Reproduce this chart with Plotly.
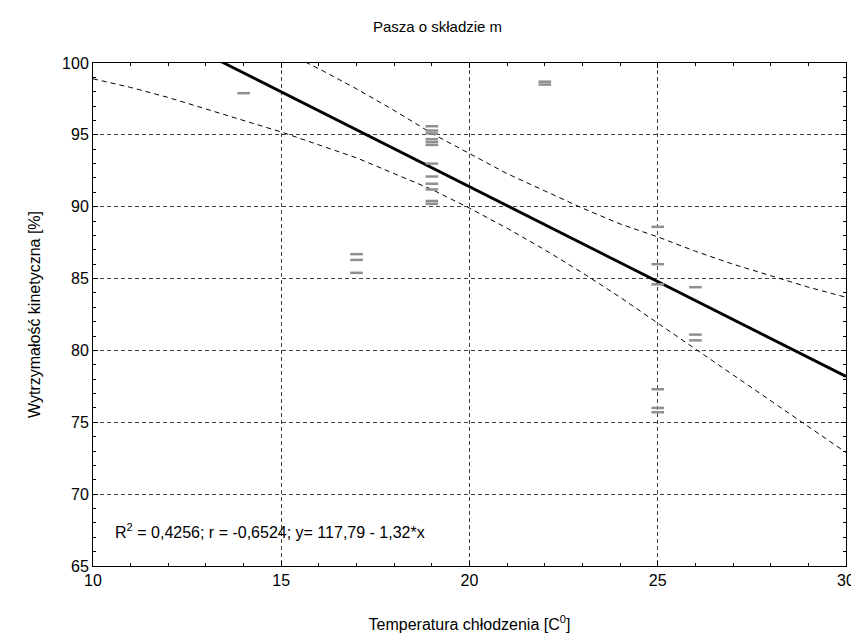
import plotly.graph_objects as go

# --- data ---
temp_x = [14,
          17, 17, 17,
          19, 19, 19, 19, 19, 19, 19, 19, 19, 19, 19, 19,
          22, 22,
          25, 25, 25, 25, 25, 25,
          26, 26, 26]
strength_y = [97.9,
              86.7, 86.3, 85.4,
              95.6, 95.3, 95.1, 94.7, 94.5, 94.3, 93.0, 92.1, 91.6, 91.2, 90.4, 90.2,
              98.7, 98.5,
              88.6, 86.0, 84.6, 77.3, 76.0, 75.7,
              84.4, 81.1, 80.7]

intercept = 117.79
slope = -1.32
reg_x = [10, 30]

lower_x = [10, 11, 12, 13, 14, 15, 16, 17, 18, 19, 20, 21, 22, 23, 24, 25, 26, 27, 28, 29, 30]
lower_y = [98.9, 98.3, 97.6, 96.8, 96.0, 95.2, 94.3, 93.4, 92.3, 91.2, 89.9, 88.5, 87.0, 85.4, 83.7,
           81.9, 80.1, 78.3, 76.5, 74.7, 72.9]
upper_x = [15, 16, 17, 18, 19, 20, 21, 22, 23, 24, 25, 26, 27, 28, 29, 30]
upper_y = [100.9, 99.6, 98.2, 96.7, 95.1, 93.7, 92.3, 91.1, 89.9, 88.8, 87.9, 86.9, 86.0, 85.2, 84.4, 83.7]

x_ticks = [10, 15, 20, 25, 30]
y_ticks = [65, 70, 75, 80, 85, 90, 95, 100]

title_text = "Pasza o składzie m"
x_title = "Temperatura chłodzenia [C<sup>0</sup>]"
y_title = "Wytrzymałość kinetyczna [%]"
stat_text = "R<sup>2</sup> = 0,4256; r = -0,6524; y= 117,79 - 1,32*x"

FONT = "Liberation Sans, Arial, sans-serif"

fig = go.Figure()

fig.add_trace(go.Scatter(
    x=lower_x, y=lower_y, mode="lines",
    line=dict(color="black", width=1, dash="5px,4px"),
    hoverinfo="skip", showlegend=False))
fig.add_trace(go.Scatter(
    x=upper_x, y=upper_y, mode="lines",
    line=dict(color="black", width=1, dash="5px,4px"),
    hoverinfo="skip", showlegend=False))

reg_y = [intercept + slope * v for v in reg_x]
fig.add_trace(go.Scatter(
    x=reg_x, y=reg_y, mode="lines",
    line=dict(color="black", width=2.8),
    hoverinfo="skip", showlegend=False))

fig.add_trace(go.Scatter(
    x=temp_x, y=strength_y, mode="markers",
    marker=dict(symbol="line-ew-open", size=9, color="#8f8f8f",
                line=dict(color="#8f8f8f", width=2.5)),
    showlegend=False))

axis_common = dict(
    showline=True, linecolor="black", linewidth=1, mirror="ticks",
    ticks="inside", ticklen=5, tickcolor="black", tickwidth=1,
    showgrid=True, gridcolor="#444444", gridwidth=1, griddash="4px,3px",
    zeroline=False,
    tickfont=dict(family=FONT, size=16, color="black"),
    minor=dict(ticks="inside", ticklen=3, tickcolor="black", dtick=1, showgrid=False),
)

fig.update_xaxes(range=[10, 30], tickvals=x_ticks, **axis_common,
                 title=dict(text=x_title, font=dict(family=FONT, size=16, color="black"),
                            standoff=30))
fig.update_yaxes(range=[65, 100], tickvals=y_ticks, **axis_common,
                 title=dict(text=y_title, font=dict(family=FONT, size=16, color="black"),
                            standoff=17))

fig.add_annotation(
    x=0.026, y=0.07, xref="paper", yref="paper", xanchor="left", yanchor="middle",
    text=stat_text, showarrow=False,
    font=dict(family=FONT, size=16, color="black"))

fig.update_layout(
    width=859, height=634,
    margin=dict(l=85, r=14, t=55, b=75),
    paper_bgcolor="white", plot_bgcolor="white",
    title=dict(text=title_text, x=0.5, xanchor="center", y=0.97, yanchor="middle",
               font=dict(family=FONT, size=15, color="black")),
)

fig.write_html("out.html")
